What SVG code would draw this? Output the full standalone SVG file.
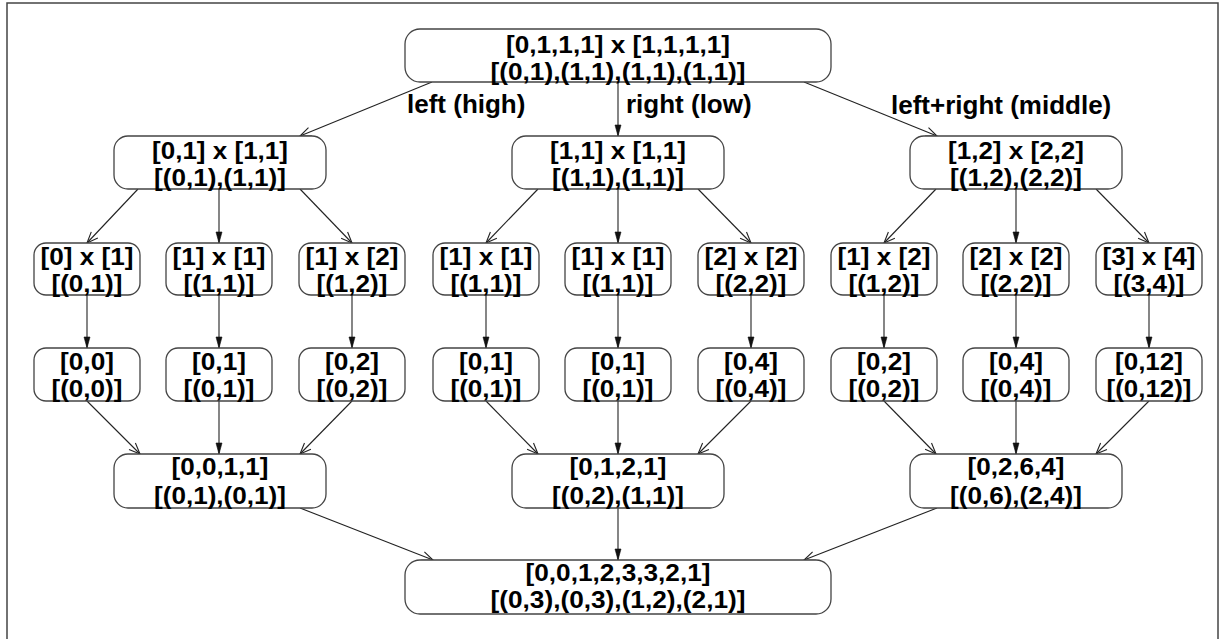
<svg xmlns="http://www.w3.org/2000/svg" width="1229" height="639" viewBox="0 0 1229 639">
<style>
.box{fill:#fff;stroke:#444;stroke-width:1.3}
.t{font-family:"Liberation Sans",Arial,sans-serif;font-weight:bold;font-size:24px;fill:#000;text-anchor:middle}
.lbl{font-family:"Liberation Sans",Arial,sans-serif;font-weight:bold;font-size:26px;fill:#000}
.e{stroke:#222;stroke-width:1.1;fill:none}
.eo{marker-end:url(#ao)}
.ef{marker-end:url(#af)}
</style>
<defs>
<marker id="ao" markerUnits="userSpaceOnUse" markerWidth="14" markerHeight="12" refX="11" refY="4.5" orient="auto" overflow="visible">
<path d="M0,0 L11,4.5 L0,9" fill="none" stroke="#222" stroke-width="1.1"/>
</marker>
<marker id="af" markerUnits="userSpaceOnUse" markerWidth="14" markerHeight="10" refX="11" refY="3" orient="auto" overflow="visible">
<path d="M0,0 L11,3 L0,6 Z" fill="#111" stroke="#111" stroke-width="0.6"/>
</marker>
</defs>
<rect x="0" y="0" width="1229" height="639" fill="#fff"/>
<rect x="7" y="3" width="1211" height="700" fill="none" stroke="#444" stroke-width="1.5"/>

<g id="connectors">
<line class="e eo" x1="432" y1="82" x2="300" y2="136"/>
<line class="e ef" x1="618" y1="82" x2="618" y2="136"/>
<line class="e eo" x1="804" y1="82" x2="937" y2="136"/>

<line class="e eo" x1="138" y1="189" x2="87" y2="243"/>
<line class="e ef" x1="219" y1="189" x2="219" y2="243"/>
<line class="e eo" x1="300" y1="189" x2="352" y2="243"/>
<line class="e eo" x1="538" y1="189" x2="486" y2="243"/>
<line class="e ef" x1="618" y1="189" x2="618" y2="243"/>
<line class="e eo" x1="698" y1="189" x2="751" y2="243"/>
<line class="e eo" x1="936" y1="189" x2="884" y2="243"/>
<line class="e ef" x1="1016" y1="189" x2="1016" y2="243"/>
<line class="e eo" x1="1096" y1="189" x2="1149" y2="243"/>

<line class="e ef" x1="87" y1="295" x2="87" y2="348"/>
<line class="e ef" x1="219" y1="295" x2="219" y2="348"/>
<line class="e ef" x1="352" y1="295" x2="352" y2="348"/>
<line class="e ef" x1="486" y1="295" x2="486" y2="348"/>
<line class="e ef" x1="618" y1="295" x2="618" y2="348"/>
<line class="e ef" x1="751" y1="295" x2="751" y2="348"/>
<line class="e ef" x1="884" y1="295" x2="884" y2="348"/>
<line class="e ef" x1="1016" y1="295" x2="1016" y2="348"/>
<line class="e ef" x1="1149" y1="295" x2="1149" y2="348"/>

<line class="e eo" x1="87" y1="401" x2="140" y2="454"/>
<line class="e ef" x1="219" y1="401" x2="219" y2="454"/>
<line class="e eo" x1="352" y1="401" x2="300" y2="454"/>
<line class="e eo" x1="486" y1="401" x2="538" y2="454"/>
<line class="e ef" x1="618" y1="401" x2="618" y2="454"/>
<line class="e eo" x1="751" y1="401" x2="698" y2="454"/>
<line class="e eo" x1="884" y1="401" x2="936" y2="454"/>
<line class="e ef" x1="1016" y1="401" x2="1016" y2="454"/>
<line class="e eo" x1="1149" y1="401" x2="1096" y2="454"/>

<line class="e eo" x1="300" y1="508" x2="433" y2="560"/>
<line class="e ef" x1="618" y1="508" x2="618" y2="560"/>
<line class="e eo" x1="937" y1="508" x2="804" y2="560"/>

<text class="lbl" x="407" y="113">left (high)</text>
<text class="lbl" x="626" y="113">right (low)</text>
<text class="lbl" x="891" y="114">left+right (middle)</text>
</g>

<g id="n0"><rect class="box" x="405" y="29" width="426" height="53" rx="15"/><text class="t"><tspan x="618" y="53" textLength="224" lengthAdjust="spacingAndGlyphs">[0,1,1,1] x [1,1,1,1]</tspan><tspan x="618" y="80" textLength="255" lengthAdjust="spacingAndGlyphs">[(0,1),(1,1),(1,1),(1,1)]</tspan></text></g>

<g id="n1"><rect class="box" x="114" y="136" width="212" height="53" rx="14"/><text class="t"><tspan x="220" y="159" textLength="136" lengthAdjust="spacingAndGlyphs">[0,1] x [1,1]</tspan><tspan x="220" y="186" textLength="132" lengthAdjust="spacingAndGlyphs">[(0,1),(1,1)]</tspan></text></g>
<g id="n2"><rect class="box" x="512" y="136" width="212" height="53" rx="14"/><text class="t"><tspan x="618" y="159" textLength="136" lengthAdjust="spacingAndGlyphs">[1,1] x [1,1]</tspan><tspan x="618" y="186" textLength="132" lengthAdjust="spacingAndGlyphs">[(1,1),(1,1)]</tspan></text></g>
<g id="n3"><rect class="box" x="910" y="136" width="212" height="53" rx="14"/><text class="t"><tspan x="1016" y="159" textLength="136" lengthAdjust="spacingAndGlyphs">[1,2] x [2,2]</tspan><tspan x="1016" y="186" textLength="132" lengthAdjust="spacingAndGlyphs">[(1,2),(2,2)]</tspan></text></g>

<g id="a1"><rect class="box" x="34" y="243" width="106" height="52" rx="12"/><text class="t"><tspan x="87" y="265" textLength="93" lengthAdjust="spacingAndGlyphs">[0] x [1]</tspan><tspan x="87" y="292" textLength="71" lengthAdjust="spacingAndGlyphs">[(0,1)]</tspan></text></g>
<g id="a2"><rect class="box" x="166" y="243" width="106" height="52" rx="12"/><text class="t"><tspan x="219" y="265" textLength="93" lengthAdjust="spacingAndGlyphs">[1] x [1]</tspan><tspan x="219" y="292" textLength="71" lengthAdjust="spacingAndGlyphs">[(1,1)]</tspan></text></g>
<g id="a3"><rect class="box" x="299" y="243" width="106" height="52" rx="12"/><text class="t"><tspan x="352" y="265" textLength="93" lengthAdjust="spacingAndGlyphs">[1] x [2]</tspan><tspan x="352" y="292" textLength="71" lengthAdjust="spacingAndGlyphs">[(1,2)]</tspan></text></g>
<g id="a4"><rect class="box" x="433" y="243" width="106" height="52" rx="12"/><text class="t"><tspan x="486" y="265" textLength="93" lengthAdjust="spacingAndGlyphs">[1] x [1]</tspan><tspan x="486" y="292" textLength="71" lengthAdjust="spacingAndGlyphs">[(1,1)]</tspan></text></g>
<g id="a5"><rect class="box" x="565" y="243" width="106" height="52" rx="12"/><text class="t"><tspan x="618" y="265" textLength="93" lengthAdjust="spacingAndGlyphs">[1] x [1]</tspan><tspan x="618" y="292" textLength="71" lengthAdjust="spacingAndGlyphs">[(1,1)]</tspan></text></g>
<g id="a6"><rect class="box" x="698" y="243" width="106" height="52" rx="12"/><text class="t"><tspan x="751" y="265" textLength="93" lengthAdjust="spacingAndGlyphs">[2] x [2]</tspan><tspan x="751" y="292" textLength="71" lengthAdjust="spacingAndGlyphs">[(2,2)]</tspan></text></g>
<g id="a7"><rect class="box" x="831" y="243" width="106" height="52" rx="12"/><text class="t"><tspan x="884" y="265" textLength="93" lengthAdjust="spacingAndGlyphs">[1] x [2]</tspan><tspan x="884" y="292" textLength="71" lengthAdjust="spacingAndGlyphs">[(1,2)]</tspan></text></g>
<g id="a8"><rect class="box" x="963" y="243" width="106" height="52" rx="12"/><text class="t"><tspan x="1016" y="265" textLength="93" lengthAdjust="spacingAndGlyphs">[2] x [2]</tspan><tspan x="1016" y="292" textLength="71" lengthAdjust="spacingAndGlyphs">[(2,2)]</tspan></text></g>
<g id="a9"><rect class="box" x="1096" y="243" width="106" height="52" rx="12"/><text class="t"><tspan x="1149" y="265" textLength="93" lengthAdjust="spacingAndGlyphs">[3] x [4]</tspan><tspan x="1149" y="292" textLength="71" lengthAdjust="spacingAndGlyphs">[(3,4)]</tspan></text></g>

<g id="b1"><rect class="box" x="34" y="348" width="106" height="53" rx="12"/><text class="t"><tspan x="87" y="370" textLength="54" lengthAdjust="spacingAndGlyphs">[0,0]</tspan><tspan x="87" y="397" textLength="71" lengthAdjust="spacingAndGlyphs">[(0,0)]</tspan></text></g>
<g id="b2"><rect class="box" x="166" y="348" width="106" height="53" rx="12"/><text class="t"><tspan x="219" y="370" textLength="54" lengthAdjust="spacingAndGlyphs">[0,1]</tspan><tspan x="219" y="397" textLength="71" lengthAdjust="spacingAndGlyphs">[(0,1)]</tspan></text></g>
<g id="b3"><rect class="box" x="299" y="348" width="106" height="53" rx="12"/><text class="t"><tspan x="352" y="370" textLength="54" lengthAdjust="spacingAndGlyphs">[0,2]</tspan><tspan x="352" y="397" textLength="71" lengthAdjust="spacingAndGlyphs">[(0,2)]</tspan></text></g>
<g id="b4"><rect class="box" x="433" y="348" width="106" height="53" rx="12"/><text class="t"><tspan x="486" y="370" textLength="54" lengthAdjust="spacingAndGlyphs">[0,1]</tspan><tspan x="486" y="397" textLength="71" lengthAdjust="spacingAndGlyphs">[(0,1)]</tspan></text></g>
<g id="b5"><rect class="box" x="565" y="348" width="106" height="53" rx="12"/><text class="t"><tspan x="618" y="370" textLength="54" lengthAdjust="spacingAndGlyphs">[0,1]</tspan><tspan x="618" y="397" textLength="71" lengthAdjust="spacingAndGlyphs">[(0,1)]</tspan></text></g>
<g id="b6"><rect class="box" x="698" y="348" width="106" height="53" rx="12"/><text class="t"><tspan x="751" y="370" textLength="54" lengthAdjust="spacingAndGlyphs">[0,4]</tspan><tspan x="751" y="397" textLength="71" lengthAdjust="spacingAndGlyphs">[(0,4)]</tspan></text></g>
<g id="b7"><rect class="box" x="831" y="348" width="106" height="53" rx="12"/><text class="t"><tspan x="884" y="370" textLength="54" lengthAdjust="spacingAndGlyphs">[0,2]</tspan><tspan x="884" y="397" textLength="71" lengthAdjust="spacingAndGlyphs">[(0,2)]</tspan></text></g>
<g id="b8"><rect class="box" x="963" y="348" width="106" height="53" rx="12"/><text class="t"><tspan x="1016" y="370" textLength="54" lengthAdjust="spacingAndGlyphs">[0,4]</tspan><tspan x="1016" y="397" textLength="71" lengthAdjust="spacingAndGlyphs">[(0,4)]</tspan></text></g>
<g id="b9"><rect class="box" x="1096" y="348" width="106" height="53" rx="12"/><text class="t"><tspan x="1149" y="370" textLength="68" lengthAdjust="spacingAndGlyphs">[0,12]</tspan><tspan x="1149" y="397" textLength="85" lengthAdjust="spacingAndGlyphs">[(0,12)]</tspan></text></g>

<g id="c1"><rect class="box" x="114" y="454" width="212" height="54" rx="14"/><text class="t"><tspan x="220" y="475" textLength="97" lengthAdjust="spacingAndGlyphs">[0,0,1,1]</tspan><tspan x="220" y="504" textLength="132" lengthAdjust="spacingAndGlyphs">[(0,1),(0,1)]</tspan></text></g>
<g id="c2"><rect class="box" x="512" y="454" width="212" height="54" rx="14"/><text class="t"><tspan x="618" y="475" textLength="97" lengthAdjust="spacingAndGlyphs">[0,1,2,1]</tspan><tspan x="618" y="504" textLength="132" lengthAdjust="spacingAndGlyphs">[(0,2),(1,1)]</tspan></text></g>
<g id="c3"><rect class="box" x="910" y="454" width="212" height="54" rx="14"/><text class="t"><tspan x="1016" y="475" textLength="97" lengthAdjust="spacingAndGlyphs">[0,2,6,4]</tspan><tspan x="1016" y="504" textLength="132" lengthAdjust="spacingAndGlyphs">[(0,6),(2,4)]</tspan></text></g>

<g id="d"><rect class="box" x="405" y="560" width="426" height="54" rx="15"/><text class="t"><tspan x="618" y="581" textLength="185" lengthAdjust="spacingAndGlyphs">[0,0,1,2,3,3,2,1]</tspan><tspan x="618" y="608" textLength="255" lengthAdjust="spacingAndGlyphs">[(0,3),(0,3),(1,2),(2,1)]</tspan></text></g>
</svg>
